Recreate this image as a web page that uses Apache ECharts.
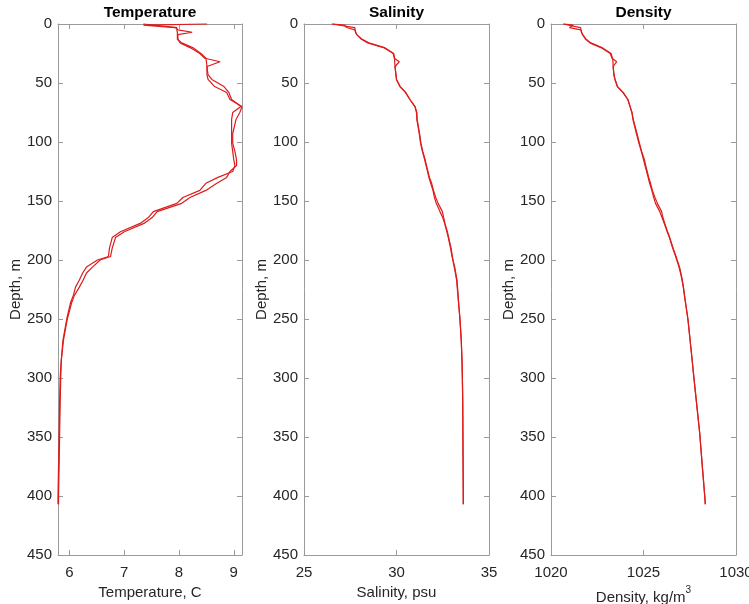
<!DOCTYPE html>
<html>
<head>
<meta charset="utf-8">
<script src="https://cdn.jsdelivr.net/npm/echarts@6/dist/echarts.min.js"></script>
<style>
html,body{margin:0;padding:0;background:#fff;}
#chart{width:749px;height:604px;}
</style>
</head>
<body>
<div id="chart"></div>
<script>
// ---------- data ----------
const depth = [0, 1, 3, 5, 7, 9, 13, 16, 20, 25, 29, 32, 36, 43, 47, 53, 58, 64, 70, 75, 81, 93, 101, 108, 115, 120, 125, 130, 135, 141, 147, 152, 159, 164, 169, 176, 181, 190, 197, 200, 206, 211, 217, 223, 230, 236, 250, 268, 285, 299, 320, 347, 375, 400, 407];

const tempCast1 = [8.51, 7.35, 7.93, 7.98, 8.24, 7.98, 7.98, 8.02, 8.20, 8.38, 8.47, 8.75, 8.51, 8.51, 8.53, 8.65, 8.87, 8.93, 9.15, 9.11, 9.04, 8.98, 8.98, 9.02, 9.05, 9.05, 8.93, 8.87, 8.69, 8.49, 8.20, 8.05, 7.60, 7.51, 7.36, 7.00, 6.84, 6.78, 6.75, 6.56, 6.42, 6.31, 6.25, 6.18, 6.09, 6.04, 5.96, 5.89, 5.85, 5.84, 5.83, 5.82, 5.81, 5.80, 5.80];
const tempCast2 = [7.35, 7.35, 7.96, 7.96, 7.97, 7.97, 7.97, 8.05, 8.25, 8.40, 8.49, 8.50, 8.51, 8.53, 8.60, 8.82, 8.91, 8.96, 9.13, 8.98, 8.96, 8.96, 8.96, 8.98, 9.00, 9.02, 8.98, 8.71, 8.49, 8.38, 8.07, 7.96, 7.53, 7.44, 7.29, 6.93, 6.78, 6.73, 6.71, 6.51, 6.31, 6.24, 6.18, 6.11, 6.07, 6.02, 5.95, 5.88, 5.85, 5.83, 5.82, 5.81, 5.80, 5.79, 5.79];

const salCast1 = [26.50, 26.55, 27.75, 27.76, 27.78, 27.85, 28.15, 28.50, 29.35, 29.85, 29.90, 29.90, 29.92, 29.97, 30.00, 30.20, 30.50, 30.73, 31.00, 31.10, 31.12, 31.25, 31.32, 31.42, 31.55, 31.62, 31.70, 31.78, 31.90, 32.00, 32.12, 32.25, 32.48, 32.55, 32.62, 32.75, 32.82, 32.95, 33.02, 33.05, 33.15, 33.20, 33.27, 33.30, 33.33, 33.36, 33.43, 33.50, 33.54, 33.56, 33.58, 33.59, 33.60, 33.61, 33.61];
const salCast2 = [26.55, 27.20, 27.30, 27.76, 27.80, 27.85, 28.10, 28.45, 29.30, 29.82, 29.88, 30.15, 29.92, 29.97, 30.00, 30.18, 30.48, 30.72, 31.00, 31.08, 31.10, 31.23, 31.30, 31.40, 31.52, 31.60, 31.68, 31.75, 31.85, 31.97, 32.05, 32.15, 32.35, 32.50, 32.60, 32.72, 32.80, 32.92, 33.00, 33.05, 33.12, 33.18, 33.25, 33.28, 33.32, 33.35, 33.43, 33.50, 33.54, 33.56, 33.58, 33.59, 33.60, 33.61, 33.61];

const densCast1 = [1020.65, 1020.75, 1021.60, 1021.62, 1021.65, 1021.70, 1021.90, 1022.15, 1022.75, 1023.25, 1023.32, 1023.35, 1023.36, 1023.40, 1023.46, 1023.60, 1023.90, 1024.16, 1024.28, 1024.38, 1024.45, 1024.65, 1024.78, 1024.90, 1025.05, 1025.12, 1025.20, 1025.28, 1025.38, 1025.48, 1025.62, 1025.75, 1025.98, 1026.05, 1026.15, 1026.30, 1026.42, 1026.60, 1026.76, 1026.82, 1026.95, 1027.02, 1027.10, 1027.16, 1027.22, 1027.27, 1027.40, 1027.52, 1027.63, 1027.72, 1027.86, 1028.04, 1028.18, 1028.31, 1028.34];
const densCast2 = [1020.70, 1021.20, 1021.00, 1021.62, 1021.65, 1021.72, 1021.88, 1022.10, 1022.70, 1023.20, 1023.30, 1023.55, 1023.36, 1023.40, 1023.46, 1023.58, 1023.88, 1024.15, 1024.27, 1024.37, 1024.43, 1024.62, 1024.75, 1024.88, 1025.00, 1025.08, 1025.17, 1025.25, 1025.33, 1025.45, 1025.55, 1025.65, 1025.88, 1026.00, 1026.12, 1026.28, 1026.40, 1026.58, 1026.74, 1026.80, 1026.92, 1027.00, 1027.08, 1027.15, 1027.21, 1027.27, 1027.40, 1027.52, 1027.63, 1027.72, 1027.86, 1028.04, 1028.18, 1028.31, 1028.34];

const panelTitles = ['Temperature', 'Salinity', 'Density'];
const xAxisNames = ['Temperature, C', 'Salinity, psu', '{a|Density, kg/m}{s|3}'];
const tempTicks = [6, 7, 8, 9];
const tempRange = [5.79, 9.15];
const salRange = [25, 35];
const densRange = [1020, 1030];
const depthRange = [0, 450];

// ---------- chart ----------
const FONT = 'Liberation Sans, Arial, sans-serif';
const AXIS_COLOR = '#9a9a9a';
const TEXT_COLOR = '#262626';
const LINE_COLOR = '#dc1c1c';

function zip(xs, ys) { return xs.map((v, i) => [v, ys[i]]); }

const grids = [
  { left: 58, top: 24, width: 184, height: 531, containLabel: false, outerBoundsMode: 'none' },
  { left: 304, top: 24, width: 185, height: 531, containLabel: false, outerBoundsMode: 'none' },
  { left: 551, top: 24, width: 185, height: 531, containLabel: false, outerBoundsMode: 'none' }
];

const xRanges = [tempRange, salRange, densRange];
const xAxes = [];
const yAxes = [];
for (let i = 0; i < 3; i++) {
  const r = xRanges[i];
  const bottom = {
    gridIndex: i, type: 'value', position: 'bottom', min: r[0], max: r[1],
    name: xAxisNames[i], nameLocation: 'middle', nameGap: i === 2 ? 25 : 30,
    nameTextStyle: {
      fontFamily: FONT, fontSize: 15, color: TEXT_COLOR,
      rich: {
        a: { fontFamily: FONT, fontSize: 15, color: TEXT_COLOR, lineHeight: 20, verticalAlign: 'bottom' },
        s: { fontFamily: FONT, fontSize: 10, color: TEXT_COLOR, verticalAlign: 'top' }
      }
    },
    axisLine: { show: true, onZero: false, lineStyle: { color: AXIS_COLOR, width: 1 } },
    axisTick: { show: true, inside: true, length: 5, lineStyle: { color: AXIS_COLOR } },
    axisLabel: { show: true, margin: 10, fontFamily: FONT, fontSize: 15, color: TEXT_COLOR,
                 formatter: v => String(v) },
    splitLine: { show: false }
  };
  const top = {
    gridIndex: i, type: 'value', position: 'top', min: r[0], max: r[1],
    name: panelTitles[i], nameLocation: 'middle', nameGap: 3,
    nameTextStyle: { fontFamily: FONT, fontSize: 15.5, fontWeight: 'bold', color: '#000' },
    axisLine: { show: true, onZero: false, lineStyle: { color: AXIS_COLOR, width: 1 } },
    axisTick: { show: true, inside: true, length: 5, lineStyle: { color: AXIS_COLOR } },
    axisLabel: { show: false },
    splitLine: { show: false }
  };
  if (i === 0) {
    bottom.axisTick.customValues = tempTicks;
    bottom.axisLabel.customValues = tempTicks;
    top.axisTick.customValues = tempTicks;
    top.axisLabel.customValues = tempTicks;
  } else {
    bottom.interval = 5;
    top.interval = 5;
  }
  xAxes.push(bottom, top);

  yAxes.push({
    gridIndex: i, type: 'value', position: 'left', inverse: true,
    min: depthRange[0], max: depthRange[1], interval: 50,
    name: 'Depth, m', nameLocation: 'middle', nameGap: 33,
    nameTextStyle: { fontFamily: FONT, fontSize: 15, color: TEXT_COLOR },
    axisLine: { show: true, onZero: false, lineStyle: { color: AXIS_COLOR, width: 1 } },
    axisTick: { show: true, inside: true, length: 5, lineStyle: { color: AXIS_COLOR } },
    axisLabel: { show: true, margin: 6, fontFamily: FONT, fontSize: 15, color: TEXT_COLOR },
    splitLine: { show: false }
  }, {
    gridIndex: i, type: 'value', position: 'right', inverse: true,
    min: depthRange[0], max: depthRange[1], interval: 50,
    axisLine: { show: true, onZero: false, lineStyle: { color: AXIS_COLOR, width: 1 } },
    axisTick: { show: true, inside: true, length: 5, lineStyle: { color: AXIS_COLOR } },
    axisLabel: { show: false },
    splitLine: { show: false }
  });
}

const casts = [
  [tempCast1, tempCast2],
  [salCast1, salCast2],
  [densCast1, densCast2]
];
const series = [];
casts.forEach((pair, i) => {
  pair.forEach(vals => {
    series.push({
      type: 'line',
      xAxisIndex: i * 2,
      yAxisIndex: i * 2,
      data: zip(vals, depth),
      showSymbol: false,
      symbol: 'none',
      silent: true,
      clip: false,
      lineStyle: { color: LINE_COLOR, width: 1.2 }
    });
  });
});

const chart = echarts.init(document.getElementById('chart'), null, { renderer: 'canvas' });
chart.setOption({
  animation: false,
  backgroundColor: '#ffffff',
  grid: grids,
  xAxis: xAxes,
  yAxis: yAxes,
  series: series
});
</script>
</body>
</html>
